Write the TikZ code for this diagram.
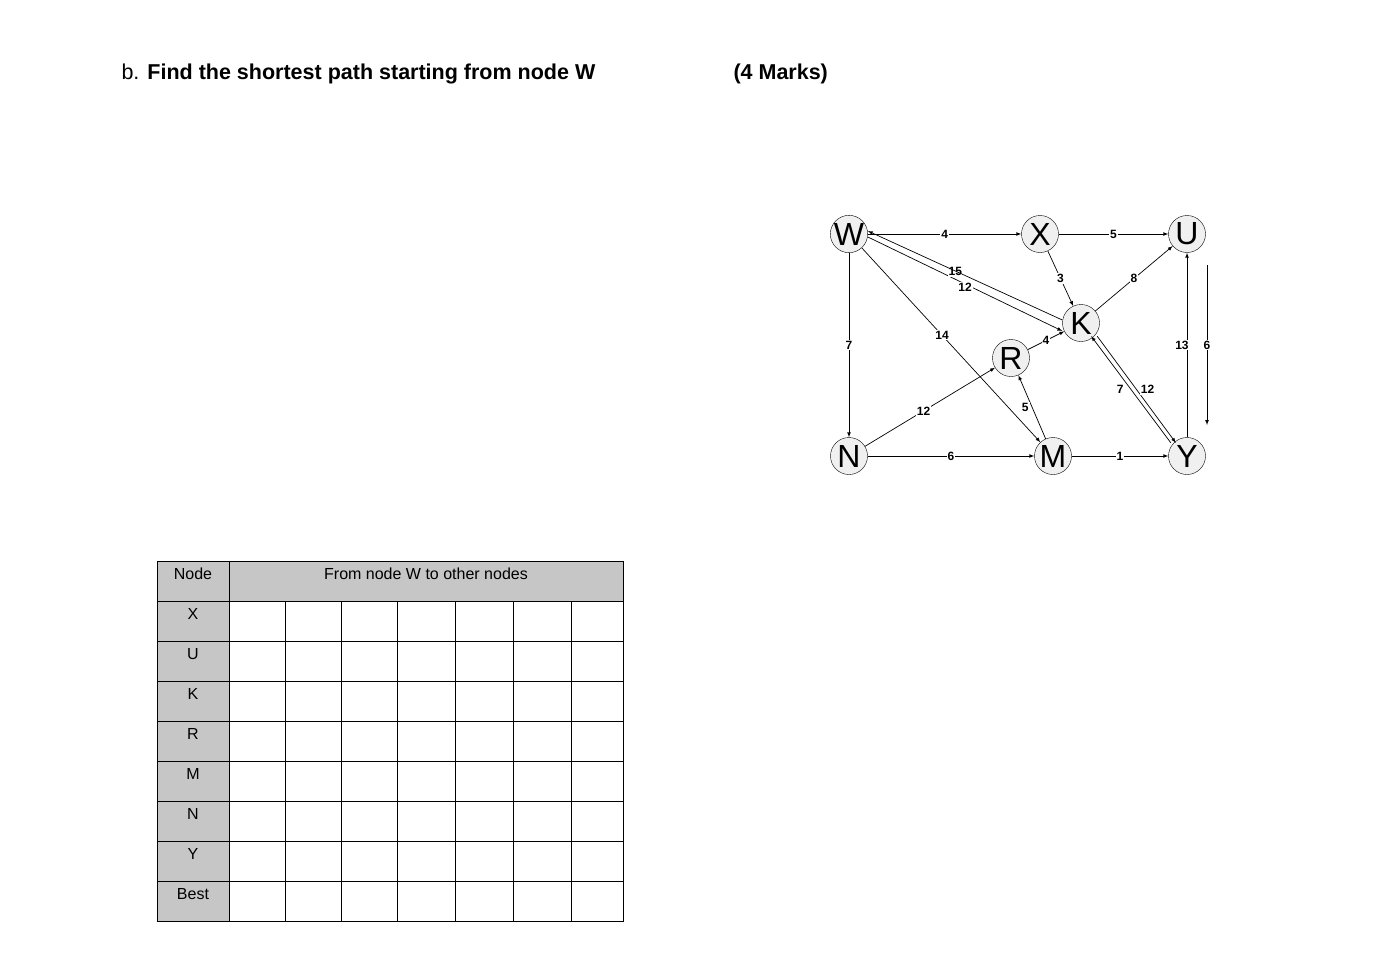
\documentclass[tikz,border=0pt]{standalone}
\usepackage{fontspec}
\setmainfont{Liberation Sans}
\begin{document}
\begin{tikzpicture}[x=1pt,y=-1pt,
 gn/.style={circle,draw,fill=gray!12,minimum size=37pt,inner sep=0pt,font=\fontsize{32}{32}\selectfont},
 ed/.style={draw,-latex,line width=0.7pt},
 wl/.style={fill=white,inner sep=1pt,font=\fontsize{12}{12}\selectfont\bfseries},
 cell/.style={draw,line width=1pt},
 tt/.style={font=\fontsize{16}{16}\selectfont}]
\useasboundingbox (0,0) rectangle (1388,964);
\node[anchor=west,font=\fontsize{21.5}{21.5}\selectfont] (t1) at (118,74) {b. \textbf{Find the shortest path starting from node W}};
\node[anchor=west,font=\fontsize{21.5}{21.5}\selectfont\bfseries] (t2) at (730,74) {(4 Marks)};
\node[gn] (W) at (849,234) {W};
\node[gn] (X) at (1040,234) {X};
\node[gn] (U) at (1187,234) {U};
\node[gn] (K) at (1081,323) {K};
\node[gn] (R) at (1011,358) {R};
\node[gn] (N) at (849,456) {N};
\node[gn] (M) at (1053,456) {M};
\node[gn] (Y) at (1187,456) {Y};
\draw[ed] (W) -- node[wl,pos=0.5]{4} (X);
\draw[ed] (X) -- node[wl,pos=0.5]{5} (U);
\draw[ed] ([yshift=-3]W.east) -- node[wl,pos=0.45,above=2pt]{15} ([yshift=-8]K.west);
\draw[ed] ([yshift=3]K.west) -- node[wl,pos=0.5,below=6pt]{12} ([yshift=3]W.east);
\draw[ed] (X) -- node[wl]{3} (K);
\draw[ed] (K) -- node[wl,pos=0.5]{8} (U);
\draw[ed] (W) -- node[wl]{7} (N);
\draw[ed] (W) -- node[wl,pos=0.45]{14} (M);
\draw[ed] (N) -- node[wl,pos=0.45]{12} (R);
\draw[ed] (R) -- node[wl]{4} (K);
\draw[ed] (M) -- node[wl,pos=0.5,left=2pt]{5} (R);
\draw[ed] (N) -- node[wl]{6} (M);
\draw[ed] (M) -- node[wl]{1} (Y);
\draw[ed] ([xshift=3]K.south east) -- node[wl,pos=0.5,right=3pt]{12} ([xshift=2]Y.north west);
\draw[ed] ([xshift=-3]Y.north west) -- node[wl,pos=0.5,left=6pt]{7} ([xshift=-3]K.south east);
\draw[ed] (Y) -- node[wl,pos=0.5,left=-3pt]{13} (U);
\coordinate (a1) at (1207,265);
\coordinate (a2) at (1207,425);
\draw[ed] (a1) -- node[wl]{6} (a2);
% table
\fill[gray!45] (157,561) rectangle (229,921);
\fill[gray!45] (229,561) rectangle (623,601);
\draw[cell] (157,561) rectangle (623,921);
\foreach \y in {601,641,...,881} \draw[cell] (157,\y) -- (623,\y);
\draw[cell] (229,561) -- (229,921);
\foreach \x in {285,341,397,455,513,571} \draw[cell] (\x,601) -- (\x,921);
\node[tt] (h1) at (193,574) {Node};
\node[tt] (h2) at (426,574) {From node W to other nodes};
\foreach \l [count=\i] in {X,U,K,R,M,N,Y,Best} \node[tt] (r\i) at (193,574+40*\i) {\l};
\end{tikzpicture}
\end{document}
